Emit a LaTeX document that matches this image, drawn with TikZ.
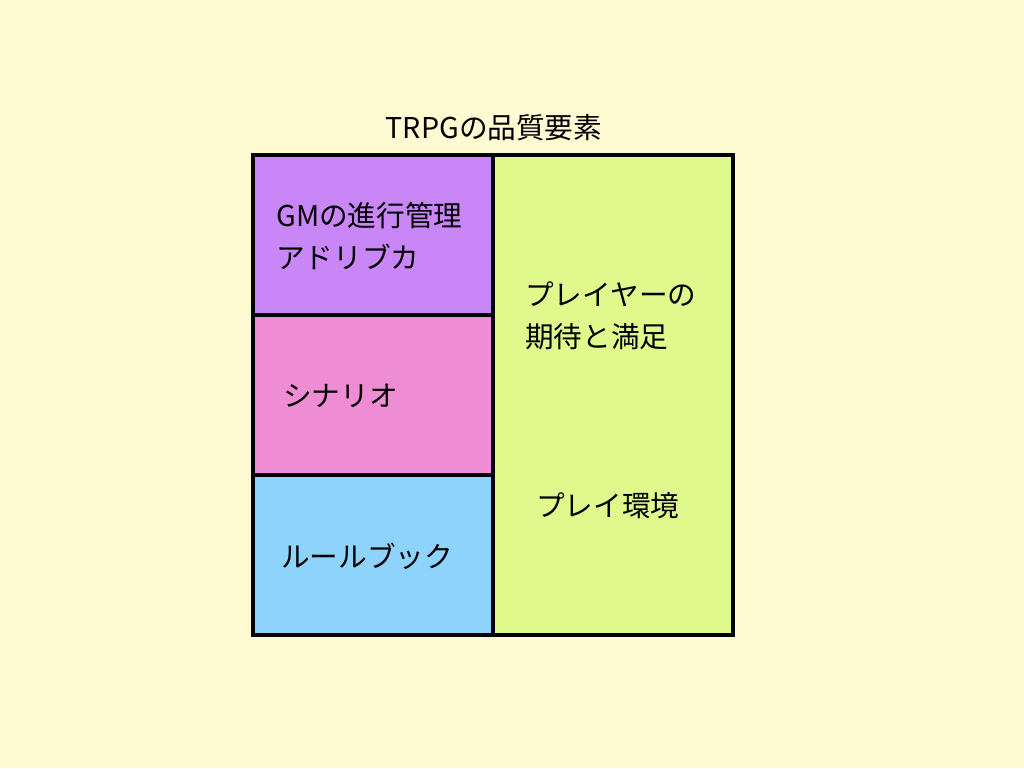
\documentclass[tikz,border=0pt]{standalone}
\usepackage{fontspec}
\setmainfont{Noto Sans CJK JP}
\definecolor{bgyellow}{HTML}{FEFBD3}
\definecolor{gmpurple}{HTML}{C986F7}
\definecolor{scpink}{HTML}{EE8DD3}
\definecolor{rbblue}{HTML}{8DD3FB}
\definecolor{plgreen}{HTML}{DFF98C}
\begin{document}
\begin{tikzpicture}[x=0.02cm,y=-0.02cm]
        \tikzstyle{every node}=[inner sep=0pt, font=\fontsize{16.3}{24}\selectfont]
        \tikzstyle{block}=[draw=black, line width=1.8pt, rectangle, minimum width=4.8cm, minimum height=3.2cm]
        \tikzstyle{label}=[anchor=west, align=left]
        \fill[bgyellow] (0,0) rectangle (1024,768);
        \node[block, fill=plgreen, minimum height=9.6cm] (player) at (613,395) {};
        \node[block, fill=gmpurple] (gm) at (373,235) {};
        \node[block, fill=scpink] (scenario) at (373,395) {};
        \node[block, fill=rbblue] (rulebook) at (373,555) {};
        \node (title) at (494,128) {TRPGの品質要素};
        \node[label] (gmtext) at (276,236) {GMの進行管理\\アドリブカ};
        \node[label] (sctext) at (283,396) {シナリオ};
        \node[label] (rbtext) at (281,556) {ルールブック};
        \node[label] (pltext) at (525,316) {プレイヤーの\\期待と満足};
        \node[label] (envtext) at (536,506) {プレイ環境};
    \end{tikzpicture}
\end{document}
